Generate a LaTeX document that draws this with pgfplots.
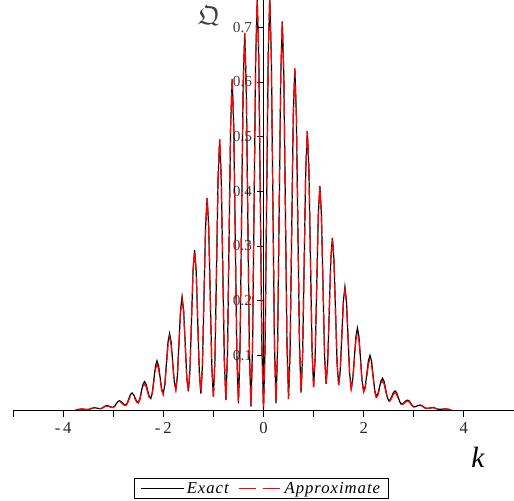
\documentclass[border=0pt]{standalone}
\usepackage{pgfplots}
\pgfplotsset{compat=1.18}
\usepackage{pgfplotstable}
\usepackage{amssymb}
\usepackage{fontspec}
\setmainfont{Liberation Serif}

\pgfplotstableread{
k E A
-3.75 .0004 .0004
-3.71875 .0007 .0006
-3.6875 .0011 .0010
-3.65625 .0016 .0014
-3.625 .0018 .0016
-3.59375 .0016 .0014
-3.5625 .0012 .0011
-3.53125 .0011 .0010
-3.5 .0010 .0009
-3.46875 .0016 .0014
-3.4375 .0027 .0024
-3.40625 .0036 .0032
-3.375 .0040 .0036
-3.34375 .0037 .0033
-3.3125 .0031 .0028
-3.28125 .0026 .0023
-3.25 .0025 .0023
-3.21875 .0036 .0032
-3.1875 .0056 .0050
-3.15625 .0073 .0066
-3.125 .0080 .0072
-3.09375 .0074 .0067
-3.0625 .0062 .0056
-3.03125 .0052 .0047
-3.0 .0050 .0045
-2.96875 .0072 .0065
-2.9375 .0115 .0104
-2.90625 .0155 .0140
-2.875 .0170 .0153
-2.84375 .0156 .0140
-2.8125 .0125 .0113
-2.78125 .0098 .0088
-2.75 .0090 .0081
-2.71875 .0127 .0114
-2.6875 .0207 .0186
-2.65625 .0281 .0253
-2.625 .0310 .0279
-2.59375 .0283 .0255
-2.5625 .0219 .0197
-2.53125 .0159 .0143
-2.5 .0140 .0126
-2.46875 .0203 .0185
-2.4375 .0339 .0308
-2.40625 .0468 .0426
-2.375 .0520 .0473
-2.34375 .0471 .0429
-2.3125 .0357 .0325
-2.28125 .0248 .0226
-2.25 .0210 .0191
-2.21875 .0321 .0299
-2.1875 .0567 .0527
-2.15625 .0804 .0748
-2.125 .0900 .0837
-2.09375 .0807 .0751
-2.0625 .0589 .0548
-2.03125 .0379 .0352
-2.0 .0300 .0279
-1.96875 .0470 .0447
-1.9375 .0860 .0817
-1.90625 .1243 .1181
-1.875 .1400 .1330
-1.84375 .1246 .1184
-1.8125 .0880 .0836
-1.78125 .0521 .0495
-1.75 .0380 .0361
-1.71875 .0623 .0611
-1.6875 .1220 .1196
-1.65625 .1820 .1784
-1.625 .2070 .2029
-1.59375 .1819 .1783
-1.5625 .1210 .1186
-1.53125 .0597 .0585
-1.5 .0340 .0333
-1.46875 .0715 .0715
-1.4375 .1630 .1630
-1.40625 .2549 .2549
-1.375 .2930 .2930
-1.34375 .2547 .2547
-1.3125 .1620 .1620
-1.28125 .0689 .0689
-1.25 .0300 .0300
-1.21875 .0818 .0818
-1.1875 .2083 .2083
-1.15625 .3353 .3353
-1.125 .3880 .3880
-1.09375 .3350 .3350
-1.0625 .2068 .2068
-1.03125 .0779 .0779
-1.0 .0240 .0240
-0.96875 .0923 .0923
-0.9375 .2588 .2588
-0.90625 .4257 .4257
-0.875 .4950 .4950
-0.84375 .4255 .4255
-0.8125 .2573 .2573
-0.78125 .0885 .0885
-0.75 .0180 .0180
-0.71875 .1033 .1033
-0.6875 .3108 .3108
-0.65625 .5187 .5187
-0.625 .6050 .6050
-0.59375 .5185 .5185
-0.5625 .3093 .3093
-0.53125 .0995 .0995
-0.5 .0120 .0120
-0.46875 .1106 .1106
-0.4375 .3503 .3503
-0.40625 .5904 .5904
-0.375 .6900 .6900
-0.34375 .5902 .5902
-0.3125 .3488 .3488
-0.28125 .1068 .1068
-0.25 .0060 .0060
-0.21875 .1145 .1145
-0.1875 .3775 .3775
-0.15625 .6409 .6409
-0.125 .7500 .7500
-0.09375 .6407 .6407
-0.0625 .3765 .3765
-0.03125 .1119 .1119
0 .0020 .0020
0.03125 .1131 .1131
0.0625 .3793 .3793
0.09375 .6444 .6444
0.125 .7540 .7540
0.15625 .6448 .6448
0.1875 .3818 .3818
0.21875 .1196 .1196
0.25 .0120 .0120
0.28125 .1152 .1152
0.3125 .3625 .3625
0.34375 .6091 .6091
0.375 .7110 .7110
0.40625 .6094 .6094
0.4375 .3645 .3645
0.46875 .1203 .1203
0.5 .0200 .0200
0.53125 .1099 .1099
0.5625 .3240 .3240
0.59375 .5371 .5371
0.625 .6250 .6250
0.65625 .5375 .5375
0.6875 .3270 .3270
0.71875 .1175 .1175
0.75 .0320 .0320
0.78125 .1031 .1031
0.8125 .2723 .2723
0.84375 .4405 .4405
0.875 .5100 .5100
0.90625 .4409 .4409
0.9375 .2748 .2748
0.96875 .1095 .1095
1.0 .0420 .0420
1.03125 .0965 .0965
1.0625 .2268 .2268
1.09375 .3565 .3565
1.125 .4100 .4100
1.15625 .3567 .3567
1.1875 .2283 .2283
1.21875 .1003 .1003
1.25 .0480 .0480
1.28125 .0869 .0869
1.3125 .1813 .1813
1.34375 .2758 .2758
1.375 .3150 .3150
1.40625 .2757 .2757
1.4375 .1808 .1808
1.46875 .0856 .0856
1.5 .0460 .0451
1.53125 .0715 .0701
1.5625 .1348 .1321
1.59375 .1985 .1945
1.625 .2250 .2205
1.65625 .1983 .1943
1.6875 .1333 .1306
1.71875 .0677 .0663
1.75 .0400 .0380
1.78125 .0556 .0528
1.8125 .0944 .0897
1.84375 .1336 .1269
1.875 .1500 .1425
1.90625 .1334 .1267
1.9375 .0931 .0884
1.96875 .0524 .0498
2.0 .0350 .0326
2.03125 .0434 .0404
2.0625 .0663 .0617
2.09375 .0900 .0837
2.125 .1000 .0930
2.15625 .0896 .0833
2.1875 .0638 .0593
2.21875 .0370 .0344
2.25 .0250 .0228
2.28125 .0290 .0264
2.3125 .0405 .0369
2.34375 .0527 .0480
2.375 .0580 .0528
2.40625 .0524 .0477
2.4375 .0385 .0350
2.46875 .0239 .0217
2.5 .0170 .0153
2.53125 .0190 .0171
2.5625 .0253 .0228
2.59375 .0321 .0289
2.625 .0350 .0315
2.65625 .0318 .0286
2.6875 .0238 .0214
2.71875 .0152 .0137
2.75 .0110 .0099
2.78125 .0115 .0104
2.8125 .0139 .0125
2.84375 .0167 .0150
2.875 .0180 .0162
2.90625 .0166 .0149
2.9375 .0126 .0113
2.96875 .0082 .0074
3.0 .0060 .0054
3.03125 .0061 .0055
3.0625 .0071 .0064
3.09375 .0084 .0076
3.125 .0090 .0081
3.15625 .0083 .0075
3.1875 .0064 .0058
3.21875 .0042 .0038
3.25 .0030 .0027
3.28125 .0031 .0028
3.3125 .0035 .0032
3.34375 .0041 .0037
3.375 .0045 .0041
3.40625 .0041 .0037
3.4375 .0030 .0027
3.46875 .0019 .0017
3.5 .0012 .0011
3.53125 .0012 .0011
3.5625 .0015 .0014
3.59375 .0018 .0016
3.625 .0020 .0018
3.65625 .0018 .0016
3.6875 .0014 .0013
3.71875 .0007 .0006
3.75 .0004 .0004
}\datatable

\begin{document}
\begin{tikzpicture}
\begin{axis}[
  scale only axis, width=375.75pt, height=307.5pt,
  xmin=-5, xmax=5, ymin=0, ymax=0.75,
  axis lines=middle,
  axis line style={-, line width=0.7pt},
  tick align=outside,
  major tick length=5pt,
  tick style={black, line width=0.7pt},
  xtick={-5,-4,-3,-2,-1,0,1,2,3,4,5},
  xticklabels={,-\,4,,-\,2,,0,,2,,4,},
  ytick={0.1,0.2,0.3,0.4,0.5,0.6,0.7},
  yticklabels={0.1,0.2,0.3,0.4,0.5,0.6,0.7},
  hide obscured x ticks=false, hide obscured y ticks=false,
  tick label style={font=\fontsize{11.5}{13}\selectfont},
  xticklabel style={text=black!85, yshift=-1pt, font=\fontsize{12.5}{14}\selectfont},
  yticklabel style={text=black!75},
  /pgf/number format/assume math mode=true,
  xlabel={k},
  xlabel style={at={(axis description cs:0.928,-0.115)}, anchor=center, font=\itshape\fontsize{22}{24}\selectfont},
  ylabel={$\mathfrak{Q}$},
  ylabel style={at={(axis description cs:0.391,0.962)}, anchor=center, rotate=0, font=\fontsize{20}{22}\selectfont, text=black!75},
  legend style={at={(axis description cs:0.496,-0.192)}, anchor=center, legend columns=2, draw=black, line width=0.7pt, font=\itshape\fontsize{12.5}{14}\selectfont\addfontfeature{LetterSpace=6}, inner xsep=4pt, inner ysep=0.5pt, /tikz/every even column/.append style={column sep=5pt}},
  legend image code/.code={\draw[#1] (0pt,0pt) -- (32pt,0pt);},
]
\addplot[black, line width=0.9pt] table[x=k, y=E] {\datatable};
\addlegendentry{Exact}
\addplot[red, line width=0.9pt, dash pattern=on 13pt off 5pt] table[x=k, y=A] {\datatable};
\addlegendentry{Approximate}
\end{axis}
\pgfresetboundingbox
\path ([shift={(-9.75pt,-68.25pt)}]current axis.south west) rectangle (current axis.north east);
\end{tikzpicture}
\end{document}
